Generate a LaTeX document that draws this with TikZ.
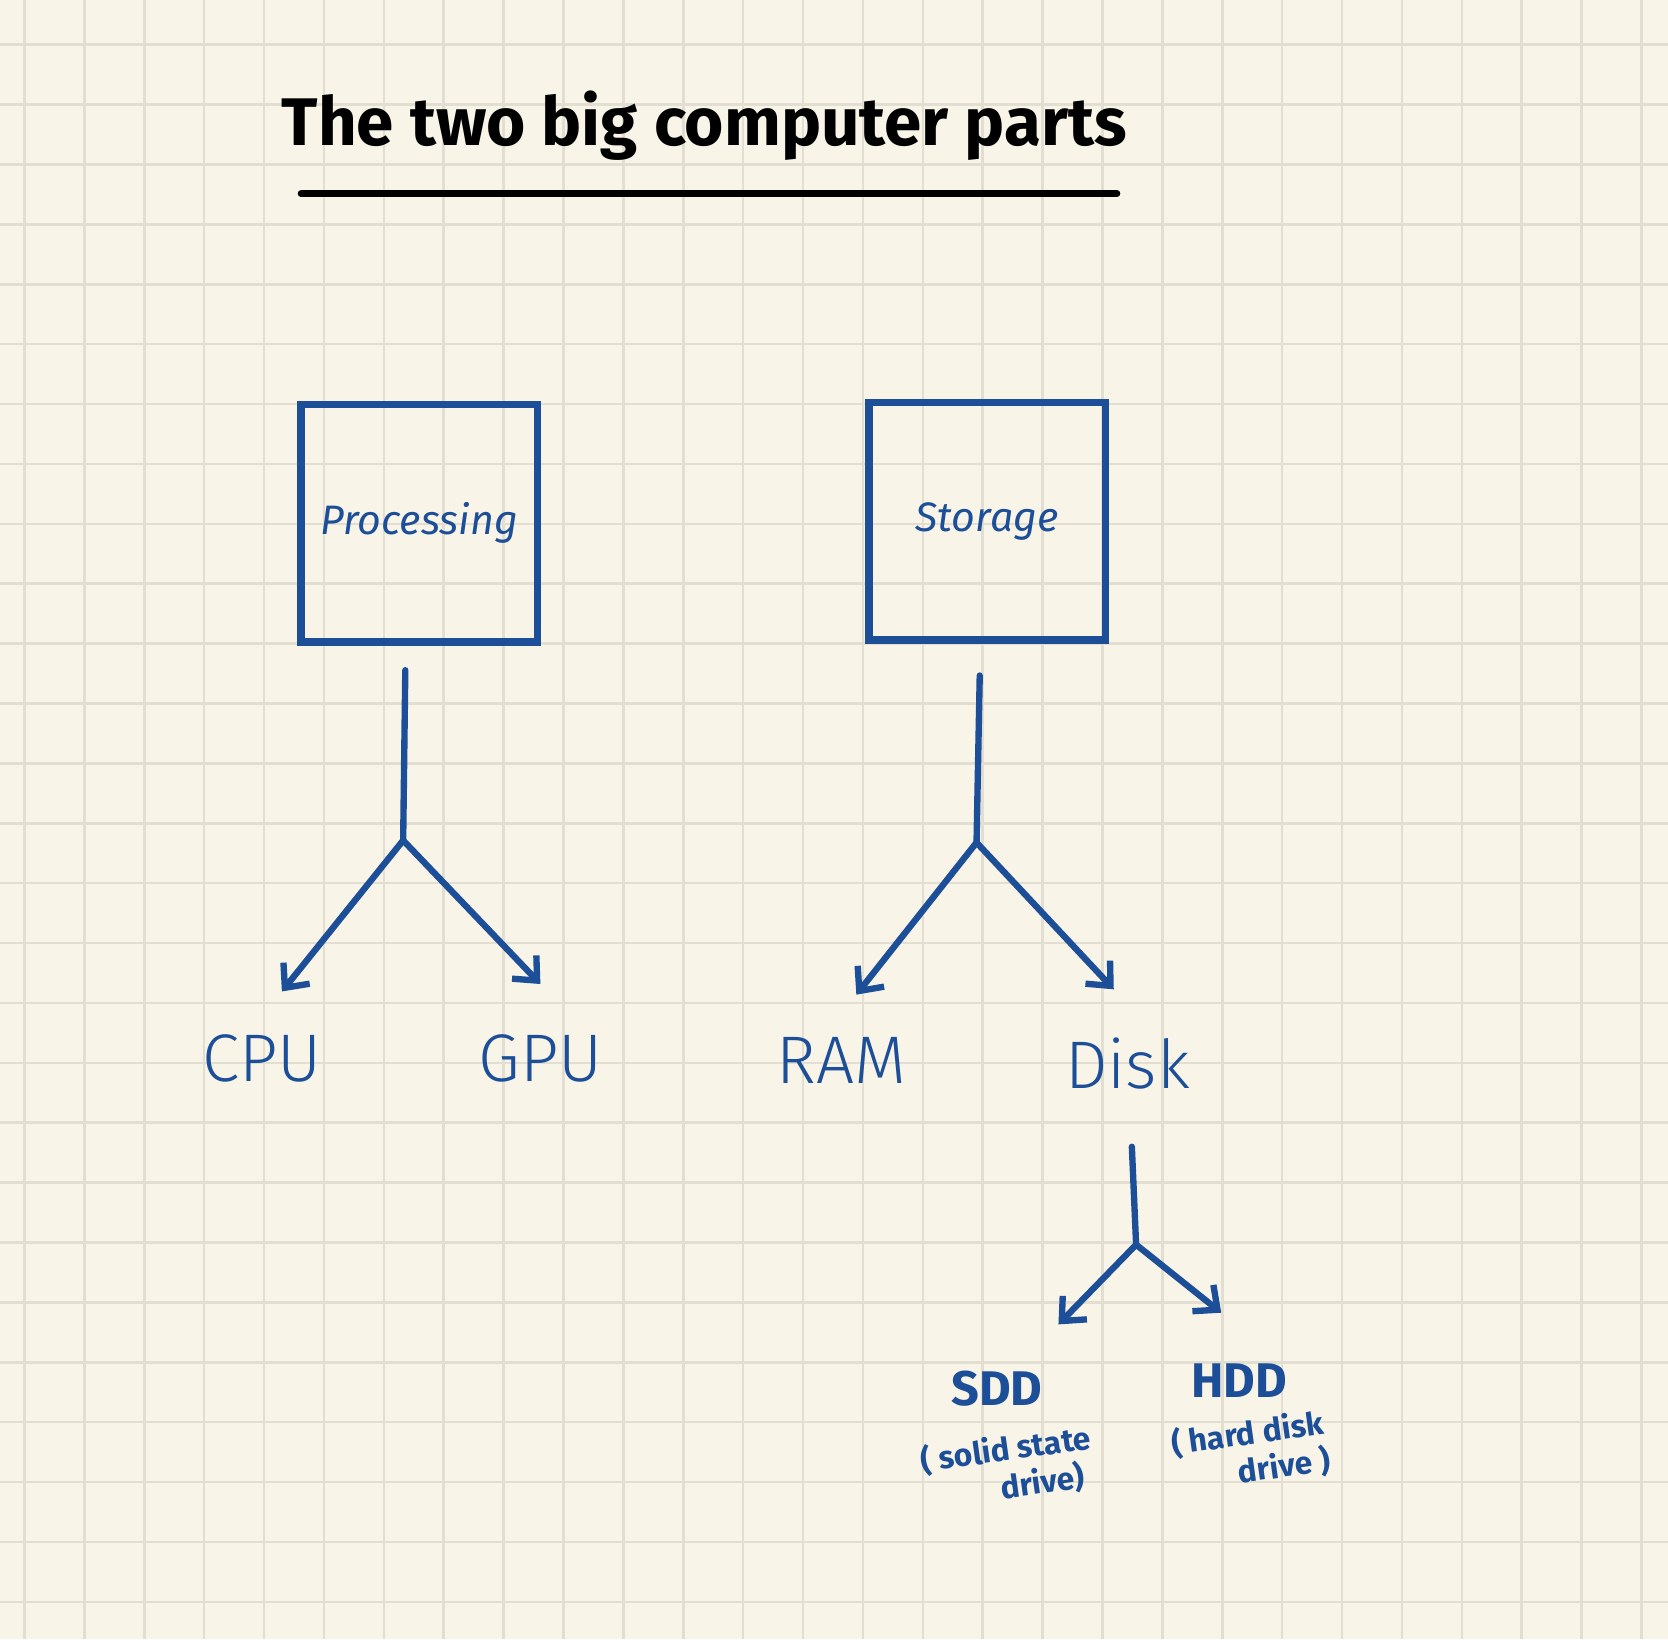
\documentclass[tikz,border=0pt]{standalone}
\usepackage{fontspec}
\setmainfont{Fira Sans}
\usetikzlibrary{arrows.meta}
\definecolor{paper}{HTML}{F8F5E8}
\definecolor{gridc}{HTML}{E2DFD2}
\definecolor{ink}{HTML}{1D4E98}
\tikzset{
  box/.style={draw=ink,line width=2pt,minimum width=2.22cm,minimum height=2.23cm,inner sep=0pt,text=ink,font=\fontsize{11}{13}\selectfont\itshape},
  lab/.style={text=ink,font=\fontsize{18}{20}\selectfont\fontspec{Fira Sans Light}},
  small/.style={text=ink,font=\fontsize{13}{15}\selectfont\bfseries,align=center,inner sep=1pt},
  tiny/.style={text=ink,font=\fontsize{8.5}{10}\selectfont\bfseries,align=center,inner sep=1pt},
  conn/.style={draw=ink,line width=1.7pt,line cap=round,line join=round},
  arr/.style={conn,-{Straight Barb[length=5pt,width=9pt]}}
}
\begin{document}
\begin{tikzpicture}[x=0.01cm,y=-0.01cm]
\fill[paper] (0,0) rectangle (1568,1541);
\useasboundingbox (0,0) rectangle (1568,1541);
\foreach \i in {0,...,27} {
  \draw[gridc,line width=0.7pt] ({23+56.3*\i},0) -- ({23+56.3*\i},1541);
  \draw[gridc,line width=0.7pt] (0,{42+56.3*\i}) -- (1568,{42+56.3*\i});
}
\node[font=\fontsize{18}{20}\selectfont\bfseries] (title) at (662,118) {The two big computer parts};
\coordinate (ul) at (283,182); \coordinate (ur) at (1050,182);
\draw[line width=1.8pt,line cap=round] (ul) -- (ur);

\node[box] (proc) at (394,492) {Processing};
\node[box] (stor) at (928,490) {Storage};

\node[lab] (cpu) at (246,995) {CPU};
\node[lab] (gpu) at (508,995) {GPU};
\node[lab] (ram) at (791,997) {RAM};
\node[lab] (disk) at (1060,1000) {Disk};

\node[small] (sdd) at (937,1305) {SDD};
\node[tiny,rotate=8] (sddt) at (948,1380) {( solid state\\ \hspace{2em}drive)};
\node[small] (hdd) at (1165,1298) {HDD};
\node[tiny,rotate=8] (hddt) at (1175,1365) {( hard disk\\ \hspace{2em}drive )};

\coordinate (p0) at (381,630); \coordinate (p1) at (379,790);
\coordinate (pc) at (265,932); \coordinate (pg) at (508,925);
\draw[conn] (p0) -- (p1);
\draw[arr] (p1) -- (pc);
\draw[arr] (p1) -- (pg);

\coordinate (s0) at (921,635); \coordinate (s1) at (918,792);
\coordinate (sr) at (805,935); \coordinate (sd) at (1047,930);
\draw[conn] (s0) -- (s1);
\draw[arr] (s1) -- (sr);
\draw[arr] (s1) -- (sd);

\coordinate (d0) at (1064,1078); \coordinate (d1) at (1068,1170);
\coordinate (ds) at (995,1245); \coordinate (dh) at (1148,1234);
\draw[conn] (d0) -- (d1);
\draw[arr] (d1) -- (ds);
\draw[arr] (d1) -- (dh);
\end{tikzpicture}
\end{document}
